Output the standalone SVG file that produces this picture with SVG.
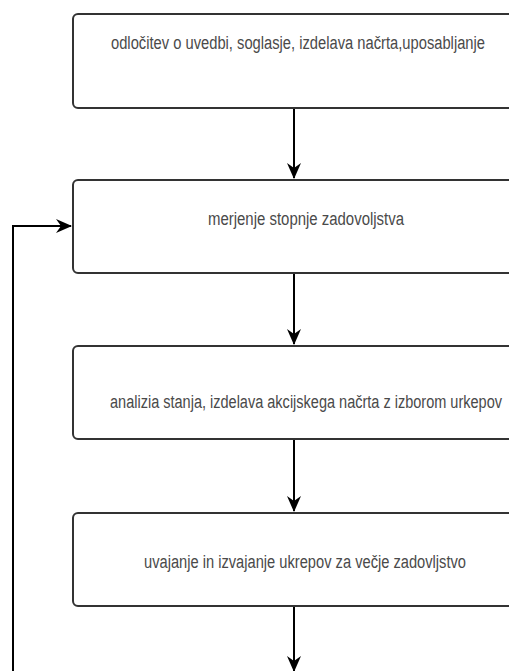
<svg xmlns="http://www.w3.org/2000/svg" width="509" height="671" viewBox="0 0 509 671">
<style>
.box{fill:#fff;stroke:#333;stroke-width:2}
.lbl{font-family:"Liberation Sans",Arial,sans-serif;font-size:18px;fill:#4a4a4a}
.con{fill:none;stroke:#000;stroke-width:2}
</style>
<defs>
<marker id="ah" viewBox="0 0 16 16" refX="15" refY="8" markerWidth="16" markerHeight="16" markerUnits="userSpaceOnUse" orient="auto">
<path d="M0,1 L16,8 L0,15 L5,8 Z" fill="#000"/>
</marker>
</defs>
<rect width="509" height="671" fill="#fff"/>
<g id="n1"><rect class="box" x="73" y="14" width="460" height="94" rx="5"/>
<text class="lbl" x="111" y="49" textLength="374" lengthAdjust="spacingAndGlyphs">odločitev o uvedbi, soglasje, izdelava načrta,uposabljanje</text></g>
<g id="n2"><rect class="box" x="73" y="180" width="460" height="93" rx="5"/>
<text class="lbl" x="208" y="225" textLength="196" lengthAdjust="spacingAndGlyphs">merjenje stopnje zadovoljstva</text></g>
<g id="n3"><rect class="box" x="73" y="346" width="460" height="93" rx="5"/>
<text class="lbl" x="110" y="408" textLength="392" lengthAdjust="spacingAndGlyphs">analizia stanja, izdelava akcijskega načrta z izborom urkepov</text></g>
<g id="n4"><rect class="box" x="73" y="513" width="460" height="93" rx="5"/>
<text class="lbl" x="144" y="568" textLength="322" lengthAdjust="spacingAndGlyphs">uvajanje in izvajanje ukrepov za večje zadovljstvo</text></g>
<g id="connectors">
<line class="con" x1="294" y1="109" x2="294" y2="178" marker-end="url(#ah)"/>
<line class="con" x1="294" y1="274" x2="294" y2="344" marker-end="url(#ah)"/>
<line class="con" x1="294" y1="440" x2="294" y2="511" marker-end="url(#ah)"/>
<line class="con" x1="294" y1="607" x2="294" y2="671" marker-end="url(#ah)"/>
<polyline class="con" points="13,671 13,226 71,226" marker-end="url(#ah)"/>
</g>
</svg>
